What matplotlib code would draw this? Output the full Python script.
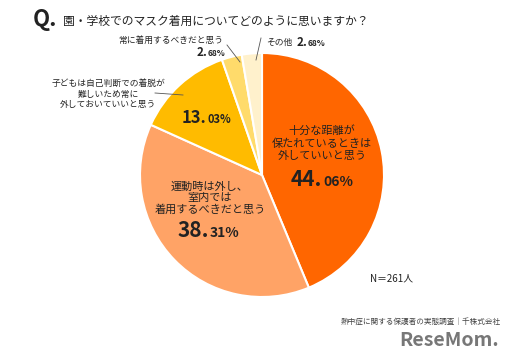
import matplotlib
matplotlib.use("Agg")
import matplotlib.pyplot as plt

plt.rcParams['font.family'] = ['Noto Sans CJK JP', 'DejaVu Sans']

labels = ["十分な距離が\n保たれているときは\n外していいと思う",
          "運動時は外し、\n室内では\n着用するべきだと思う",
          "子どもは自己判断での着脱が\n難しいため常に\n外しておいていいと思う",
          "常に着用するべきだと思う",
          "その他"]
values = [44.06, 38.31, 13.03, 2.68, 2.68]
colors = ["#FF6600", "#FFA366", "#FFBB00", "#FFDB6B", "#FFF1CC"]

W, H = 512, 360
fig = plt.figure(figsize=(W/100, H/100), dpi=100)
fig.patch.set_facecolor("white")

cx, cy, r = 262, 175, 122
ax = fig.add_axes([(cx - r)/W, (H - cy - r)/H, 2*r/W, 2*r/H])
ax.pie(values, colors=colors, startangle=90, counterclock=False,
       wedgeprops=dict(linewidth=1.5, edgecolor="white"))
ax.set_xlim(-1, 1); ax.set_ylim(-1, 1)
ax.set_aspect("equal")
ax.axis("off")

def px(x, y):
    return x / W, 1 - y / H

def pct(x, y, big, small, bs=15, ss=10):
    fig.text(*px(x, y), big, fontsize=bs, fontweight="bold", ha="right", va="baseline", color="#222222")
    fig.text(*px(x + 1, y), small, fontsize=ss, fontweight="bold", ha="left", va="baseline", color="#222222")

# Title
fig.text(*px(33, 26), "Q.", fontsize=16, fontweight="bold", ha="left", va="baseline", color="#222222")
fig.text(*px(63, 25), "園・学校でのマスク着用についてどのように思いますか？", fontsize=8.5,
         ha="left", va="baseline", color="#222222")

# Inside labels
fig.text(*px(322, 143), labels[0], fontsize=8, ha="center", va="center",
         color="#222222", linespacing=1.25)
pct(322, 186, "44.", "06%")
fig.text(*px(210, 198), labels[1], fontsize=8, ha="center", va="center",
         color="#222222", linespacing=1.15)
pct(209, 237, "38.", "31%")
pct(206, 123, "13.", "03%", bs=12, ss=8)

# Outside labels
fig.text(*px(108, 94), labels[2], fontsize=6.3, ha="center", va="center",
         color="#222222", linespacing=1.2)
fig.add_artist(plt.Line2D([px(155, 0)[0], px(183, 0)[0]], [px(0, 93)[1], px(0, 95)[1]],
                          color="#555555", lw=0.6))
fig.text(*px(171, 40), labels[3], fontsize=6.3, ha="center", va="center", color="#222222")
pct(207, 56, "2.", "68%", bs=8.5, ss=6)
fig.add_artist(plt.Line2D([px(227, 0)[0], px(240, 0)[0]], [px(0, 45)[1], px(0, 62)[1]],
                          color="#555555", lw=0.6))
fig.text(*px(266, 42), labels[4], fontsize=6.3, ha="left", va="center", color="#222222")
pct(307, 46, "2.", "68%", bs=8.5, ss=6)
fig.add_artist(plt.Line2D([px(261, 0)[0], px(256, 0)[0]], [px(0, 38)[1], px(0, 60)[1]],
                          color="#555555", lw=0.6))

# N
fig.text(*px(370, 278), "N＝261人", fontsize=7, ha="left", va="center", color="#222222")

# Source & logo
fig.text(*px(501, 322), "熱中症に関する保護者の実態調査｜千株式会社", fontsize=5.5,
         ha="right", va="center", color="#444444")
fig.text(*px(499, 341), "ReseMom.", fontsize=14, fontweight="bold", ha="right",
         va="center", color="#777777")

fig.savefig("out.png", dpi=100)
